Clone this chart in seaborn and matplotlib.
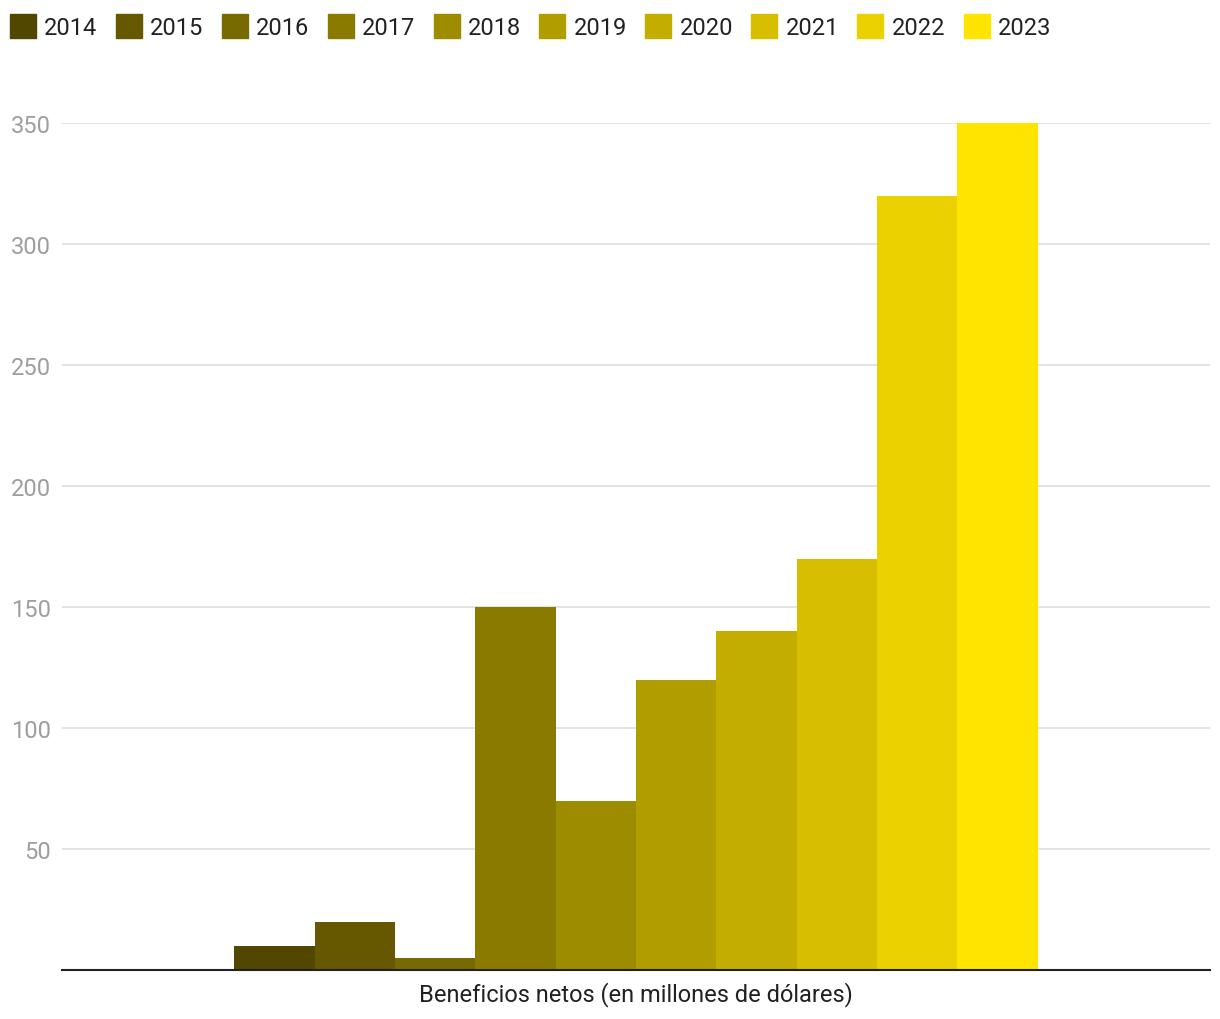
import pandas as pd
import seaborn as sns
import matplotlib.pyplot as plt

years = ['2014', '2015', '2016', '2017', '2018', '2019', '2020', '2021', '2022', '2023']
values = [10, 20, 5, 150, 70, 120, 140, 170, 320, 350]
colors = ['#524700', '#655800', '#766a00', '#8a7b00', '#9e8c00',
          '#b09d00', '#c3ae00', '#d7bf00', '#ebd100', '#ffe400']
category = 'Beneficios netos (en millones de dólares)'
yticks = [50, 100, 150, 200, 250, 300, 350]

df = pd.DataFrame({'cat': [category] * len(years), 'year': years, 'value': values})

sns.set_theme(style='white')
plt.rcParams['font.family'] = ['Roboto', 'DejaVu Sans']

fig = plt.figure(figsize=(12.2, 10.2), dpi=100)
ax = fig.add_axes([62 / 1220, 1 - 971 / 1020, 1148 / 1220, 847 / 1020])

sns.barplot(data=df, x='cat', y='value', hue='year', palette=colors,
            width=0.7, saturation=1, ax=ax, legend=False, linewidth=0)

ax.set_xlim(-0.5, 0.5)
ax.set_ylim(0, 350)
ax.set_yticks(yticks)
ax.yaxis.grid(True, color='#e0e0e0', linewidth=1.3)
ax.set_axisbelow(True)
ax.tick_params(axis='y', length=0, labelsize=17, labelcolor='#9e9e9e', pad=8)
ax.tick_params(axis='x', length=0, labelsize=17, labelcolor='#212121', pad=8)
ax.set_xlabel('')
ax.set_ylabel('')
for s in ['left', 'right', 'top']:
    ax.spines[s].set_visible(False)
ax.spines['bottom'].set_color('#212121')
ax.spines['bottom'].set_linewidth(1.5)

handles = [plt.Rectangle((0, 0), 1, 1, color=c) for c in colors]
fig.legend(handles, years, loc='upper left', bbox_to_anchor=(-9 / 1220, 1 + 4 / 1020),
           ncol=10, frameon=False, fontsize=17, handlelength=1.1, handleheight=1.2,
           handletextpad=0.35, columnspacing=0.78, labelcolor='#212121',
           borderpad=0.3)

fig.savefig('out.png', dpi=100)
